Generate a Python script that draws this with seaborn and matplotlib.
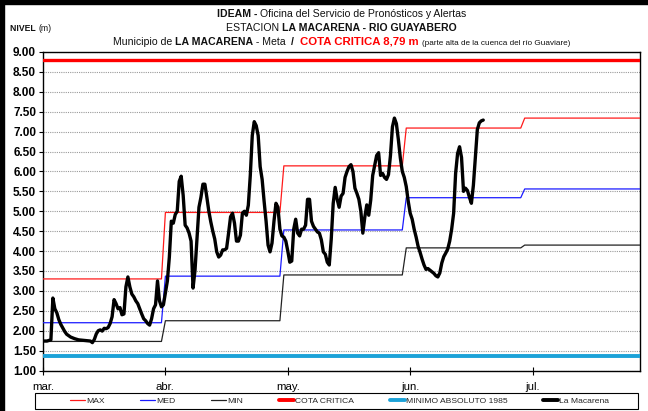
import numpy as np
import pandas as pd
import matplotlib
matplotlib.use("Agg")
import matplotlib.pyplot as plt
import seaborn as sns
from matplotlib.patches import Rectangle
from matplotlib.lines import Line2D

sns.set_theme(style="white")
SANS = ["Liberation Sans", "DejaVu Sans"]
plt.rcParams["font.family"] = SANS

# ---- data -----------------------------------------------------------------
month_labels = ["mar.", "abr.", "may.", "jun.", "jul."]
month_days = [31, 30, 31, 30, 31]
tick_every = 31                      # category axis: one tick every 31 days

# monthly reference levels (m)
nivel_max = [3.30, 4.97, 6.14, 7.09, 7.34]
nivel_med = [2.20, 3.37, 4.53, 5.34, 5.56]
nivel_min = [1.73, 2.25, 3.40, 4.08, 4.15]
cota_critica = 8.79
minimo_1985 = 1.37

# observed level, La Macarena station (two readings a day)
obs_day = [0.0, 1.0, 2.0, 2.5, 3.0, 3.5, 4.0, 4.5, 5.0, 5.5, 6.0, 7.0, 8.0, 9.0,
           10.0, 11.0, 12.0, 12.5, 13.0, 13.5, 14.0, 14.5, 15.0, 15.5, 16.0,
           16.5, 17.0, 17.5, 18.0, 18.5, 19.0, 19.5, 20.0, 20.5, 21.0, 21.5,
           22.0, 22.5, 23.0, 23.5, 24.0, 24.5, 25.0, 25.5, 26.0, 26.5, 27.0,
           27.5, 28.0, 28.5, 29.0, 29.5, 30.0, 30.5, 31.0, 31.5, 32.0, 32.5,
           33.0, 33.5, 34.0, 34.5, 35.0, 35.5, 36.0, 36.5, 37.0, 37.5, 38.0,
           38.5, 39.0, 39.5, 40.0, 40.5, 41.0, 41.5, 42.0, 42.5, 43.0, 43.5,
           44.0, 44.5, 45.0, 45.5, 46.0, 46.5, 47.0, 47.5, 48.0, 48.5, 49.0,
           49.5, 50.0, 50.5, 51.0, 51.5, 52.0, 52.5, 53.0, 53.5, 54.0, 54.5,
           55.0, 55.5, 56.0, 56.5, 57.0, 57.5, 58.0, 58.5, 59.0, 59.5, 60.0,
           60.5, 61.0, 61.5, 62.0, 62.5, 63.0, 63.5, 64.0, 64.5, 65.0, 65.5,
           66.0, 66.5, 67.0, 67.5, 68.0, 68.5, 69.0, 69.5, 70.0, 70.5, 71.0,
           71.5, 72.0, 72.5, 73.0, 73.5, 74.0, 74.5, 75.0, 75.5, 76.0, 76.5,
           77.0, 77.5, 78.0, 78.5, 79.0, 79.5, 80.0, 80.5, 81.0, 81.5, 82.0,
           82.5, 83.0, 83.5, 84.0, 84.5, 85.0, 85.5, 86.0, 86.5, 87.0, 87.5,
           88.0, 88.5, 89.0, 89.5, 90.0, 90.5, 91.0, 91.5, 92.0, 92.5, 93.0,
           93.5, 94.0, 94.5, 95.0, 95.5, 96.0, 96.5, 97.0, 97.5, 98.0, 98.5,
           99.0, 99.5, 100.0, 100.5, 101.0, 101.5, 102.0, 102.5, 103.0, 103.5,
           104.0, 104.5, 105.0, 105.5, 106.0, 106.5, 107.0, 107.5, 108.0,
           108.5, 109.0, 109.5, 110.0, 110.5, 111.0, 111.5]
obs_level = [1.74, 1.74, 1.77, 2.82, 2.55, 2.45, 2.28, 2.16, 2.07, 1.98, 1.91,
             1.84, 1.80, 1.77, 1.76, 1.75, 1.74, 1.70, 1.78, 1.92, 2.00, 2.02,
             1.99, 2.06, 2.05, 2.08, 2.18, 2.35, 2.78, 2.68, 2.55, 2.58, 2.40,
             2.42, 3.10, 3.35, 3.10, 2.92, 2.85, 2.75, 2.68, 2.55, 2.42, 2.30,
             2.25, 2.18, 2.14, 2.30, 2.55, 2.65, 3.25, 2.75, 2.60, 2.65, 2.95,
             3.25, 3.85, 4.75, 4.70, 4.92, 5.00, 5.75, 5.88, 5.40, 4.65, 4.58,
             4.45, 4.25, 3.07, 3.52, 4.30, 5.10, 5.35, 5.68, 5.68, 5.35, 5.00,
             4.73, 4.50, 4.30, 3.98, 3.85, 3.90, 4.03, 4.03, 4.07, 4.45, 4.86,
             4.95, 4.70, 4.25, 4.25, 4.40, 4.95, 5.00, 4.90, 5.15, 5.90, 6.90,
             7.25, 7.15, 6.90, 6.12, 5.80, 5.25, 4.75, 4.15, 3.98, 4.20, 4.75,
             5.20, 5.10, 4.55, 4.38, 4.35, 4.25, 4.00, 3.72, 3.75, 4.55, 4.80,
             4.45, 4.38, 4.55, 4.55, 4.65, 5.30, 5.30, 4.75, 4.62, 4.55, 4.48,
             4.45, 4.28, 3.98, 3.92, 3.72, 3.65, 4.30, 5.20, 5.60, 5.30, 5.10,
             5.38, 5.45, 5.85, 6.00, 6.12, 6.17, 6.00, 5.58, 5.45, 5.30, 5.00,
             4.45, 4.85, 5.16, 4.90, 5.28, 5.90, 6.15, 6.40, 6.47, 5.90, 5.95,
             5.85, 5.80, 5.92, 6.40, 7.12, 7.34, 7.20, 6.80, 6.34, 6.00, 5.85,
             5.62, 5.25, 4.95, 4.80, 4.55, 4.35, 4.12, 3.97, 3.80, 3.65, 3.54,
             3.56, 3.52, 3.48, 3.44, 3.38, 3.35, 3.45, 3.70, 3.86, 3.95, 4.05,
             4.25, 4.55, 4.95, 5.95, 6.45, 6.62, 6.35, 5.50, 5.58, 5.52, 5.35,
             5.20, 5.65, 6.35, 7.05, 7.22, 7.27, 7.29]

# daily reference table built from the monthly values
ref = pd.DataFrame({
    "dia": np.arange(sum(month_days)),
    "MAX": np.repeat(nivel_max, month_days),
    "MED": np.repeat(nivel_med, month_days),
    "MIN": np.repeat(nivel_min, month_days),
})
obs = pd.DataFrame({"dia": obs_day, "nivel": obs_level})

# ---- figure ---------------------------------------------------------------
W, H = 648, 411
fig = plt.figure(figsize=(W / 100, H / 100), dpi=100)
fig.patch.set_facecolor("white")
ax = fig.add_axes([43 / W, 1 - 370.5 / H, (640 - 43) / W, (370.5 - 52) / H])
ax.set_facecolor("white")

RED, BLUE, GREY = "#ff1a1a", "#1a1aff", "#222222"
CYAN = "#1ca2d8"

sns.lineplot(data=ref, x="dia", y="MAX", ax=ax, color=RED, lw=0.9, zorder=3)
sns.lineplot(data=ref, x="dia", y="MED", ax=ax, color=BLUE, lw=0.9, zorder=3)
sns.lineplot(data=ref, x="dia", y="MIN", ax=ax, color=GREY, lw=0.9, zorder=3)
ax.axhline(cota_critica, color="#ff0000", lw=2.4, zorder=4)
ax.axhline(minimo_1985, color=CYAN, lw=2.8, zorder=4)
sns.lineplot(data=obs, x="dia", y="nivel", ax=ax, color="black", lw=2.4,
             estimator=None, sort=False, zorder=5,
             solid_joinstyle="round", solid_capstyle="round")

ax.set_xlim(0, 151.2)
ax.set_ylim(1.0, 9.0)
ax.set_xlabel("")
ax.set_ylabel("")

yt = np.arange(1.0, 9.01, 0.5)
ax.set_yticks(yt)
ax.set_yticklabels([f"{v:.2f}" for v in yt], fontweight="bold", fontsize=8.5)
ax.set_xticks(np.arange(len(month_labels)) * tick_every)
ax.set_xticklabels(month_labels, fontsize=8.2)
ax.tick_params(axis="y", direction="out", length=3, width=0.8, pad=2,
               left=True, colors="black")
ax.tick_params(axis="x", direction="inout", length=6, width=0.8, pad=5,
               bottom=True, colors="black")

ax.yaxis.grid(True, color="#9a9a9a", ls=(0, (1, 1)), lw=0.8, zorder=0)
ax.set_axisbelow(True)
for sp in ax.spines.values():
    sp.set_color("black")
    sp.set_linewidth(1.0)

# ---- titles -----------------------------------------------------------------
renderer = fig.canvas.get_renderer()


def rich_line(y, parts, xc):
    texts = [fig.text(0, y, s, va="baseline", ha="left", **kw) for s, kw in parts]
    widths = [t.get_window_extent(renderer).width for t in texts]
    x = xc * W - sum(widths) / 2
    for t, w in zip(texts, widths):
        t.set_x(x / W)
        x += w


xc = (43 + 640) / 2 / W
base = dict(fontsize=7.6, color="#111111")
bold = dict(base, fontweight="bold")
rich_line(1 - 17 / H, [("IDEAM - ", bold),
                       ("Oficina del Servicio de Pronósticos y Alertas", base)], xc)
rich_line(1 - 31 / H, [("ESTACION ", base),
                       ("LA MACARENA - RIO GUAYABERO", bold)], xc)
rich_line(1 - 45 / H, [("Municipio de ", base), ("LA MACARENA", bold),
                       (" - Meta  ", base), ("/  ", bold),
                       ("COTA CRITICA 8,79 m ", dict(bold, color="#ff0000", fontsize=8.2)),
                       ("(parte alta de la cuenca del río Guaviare)",
                        dict(base, fontsize=5.9))], xc)
rich_line(1 - 31 / H, [("NIVEL ", dict(bold, fontsize=6.2)),
                       ("(m)", dict(base, fontsize=6.2))], (10 + 21) / W)

# ---- legend -------------------------------------------------------------------
handles = [
    Line2D([], [], color=RED, lw=0.9),
    Line2D([], [], color=BLUE, lw=0.9),
    Line2D([], [], color=GREY, lw=0.9),
    Line2D([], [], color="#ff0000", lw=2.8),
    Line2D([], [], color=CYAN, lw=2.8),
    Line2D([], [], color="black", lw=2.8),
]
labels = ["MAX", "MED", "MIN", "COTA CRITICA", "MINIMO ABSOLUTO 1985", "La Macarena"]
fig.legend(handles, labels, ncol=6, loc="center",
           bbox_to_anchor=((72 + 607) / 2 / W, 1 - 401 / H),
           frameon=False, fontsize=6.1, handlelength=1.8, handletextpad=0.12,
           columnspacing=4.2, borderpad=0.2)
fig.patches.append(Rectangle((35 / W, 1 - 409 / H), 603 / W, 16 / H, fill=False,
                             edgecolor="black", lw=0.8, transform=fig.transFigure))

# frame of the sheet
fig.patches.append(Rectangle((0, 1 - 4 / H), 1, 4 / H, color="black",
                             transform=fig.transFigure))
fig.patches.append(Rectangle((0, 0), 4 / W, 1, color="black",
                             transform=fig.transFigure))

fig.savefig("out.png", dpi=100, facecolor="white")
